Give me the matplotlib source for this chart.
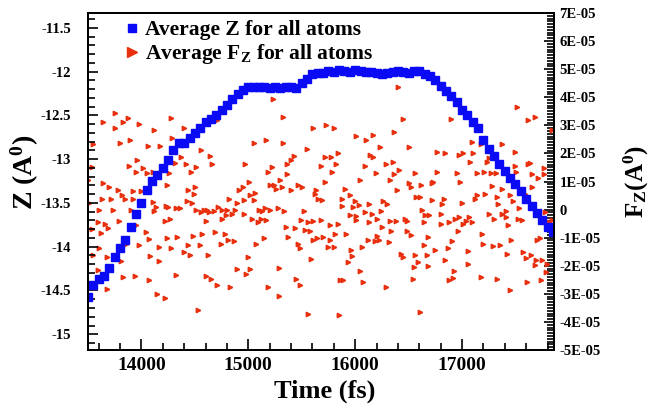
import matplotlib.pyplot as plt
from matplotlib.lines import Line2D
from matplotlib.ticker import MultipleLocator, FuncFormatter, FormatStrFormatter
import numpy as np

plt.rcParams["font.family"] = "Liberation Serif"
plt.rcParams["font.weight"] = "bold"
plt.rcParams["axes.labelweight"] = "bold"
plt.rcParams["mathtext.fontset"] = "custom"
plt.rcParams["mathtext.rm"] = "Liberation Serif:bold"
plt.rcParams["mathtext.it"] = "Liberation Serif:bold"
plt.rcParams["mathtext.bf"] = "Liberation Serif:bold"

# average Z of all atoms, sampled every 50 fs
time = np.arange(13500, 17851, 50)
z_avg = [
    -14.58, -14.44, -14.37, -14.34, -14.24, -14.12, -14.02, -13.92, -13.77, -13.63,
    -13.50, -13.35, -13.25, -13.18, -13.10, -13.01, -12.90, -12.82, -12.81, -12.76,
    -12.70, -12.64, -12.58, -12.54, -12.49, -12.44, -12.38, -12.31, -12.25, -12.21,
    -12.17, -12.17, -12.17, -12.18, -12.19, -12.18, -12.19, -12.18, -12.17, -12.19,
    -12.13, -12.08, -12.03, -12.01, -12.01, -11.99, -12.00, -11.98, -11.99, -12.00,
    -11.98, -11.99, -12.00, -12.00, -12.02, -12.03, -12.01, -12.00, -11.99, -12.00,
    -12.01, -11.99, -11.99, -12.03, -12.05, -12.10, -12.16, -12.22, -12.28, -12.35,
    -12.44, -12.49, -12.57, -12.64, -12.78, -12.88, -12.96, -13.05, -13.13, -13.21,
    -13.28, -13.36, -13.45, -13.54, -13.62, -13.70, -13.77, -13.83,
]

# average F_Z of all atoms (time in fs, value in units of 1e-5)
fz_time = [
    13755, 13637, 13871, 13830, 13980, 13755, 14120, 13550, 13802, 13896, 14058, 14173,
    13958, 13537, 13886, 14017, 13949, 14048, 14104, 14192, 13497, 13643, 13699, 13777,
    13917, 13995, 13818, 13631, 13715, 13849, 13917, 14104, 13512, 14136, 13599, 13737,
    13902, 14120, 13590, 13662, 13793, 13949, 13621, 13684, 13537, 14042, 13855, 14073,
    13606, 13980, 14161, 13674, 14079, 14161, 13808, 13715, 13593, 13830, 13939, 14067,
    13674, 14148, 13550,
    14279, 14397, 14709, 14288, 14559, 14640, 14372, 14310, 14413, 14515, 14466, 14662,
    14257, 14241, 14506, 14438, 14491, 14911, 14422, 14475, 14818, 14890, 14226, 14247,
    14319, 14360, 14515, 14559, 14584, 14609, 14631, 14678, 14715, 14755, 14802, 14874,
    14796, 14755, 14849, 14216, 14266, 14600, 14235, 14335, 14484, 14568, 14687, 14780,
    14808, 14865, 14740, 14279, 14438, 14547, 14403, 14453, 14625, 14896, 14319, 14600,
    14653, 14709, 14833, 14216, 14528,
    15230, 15323, 15601, 15049, 15164, 15323, 15548, 15429, 15401, 15361, 14971, 15682,
    15221, 15189, 15361, 15009, 15298, 15205, 15245, 15258, 15314, 15464, 15507, 15401,
    14949, 15065, 15018, 15632, 15626, 15651, 15694, 14956, 15049, 15102, 15127, 15152,
    15205, 15274, 15336, 15520, 14956, 15034, 15087, 15121, 15164, 15495, 15563, 15601,
    15679, 15351, 15439, 15532, 15579, 15376, 15697, 15610, 15641, 15143, 15074, 15461,
    15485, 14993, 15585, 15018, 14977, 15283, 15445, 15485, 15180, 15283, 15563,
    15731, 15800, 16012, 16105, 16168, 16361, 16230, 15840, 15722, 15778, 16143, 16168,
    15825, 16090, 16286, 16355, 15784, 16199, 16361, 16408, 15722, 16049, 16324, 16395,
    15903, 15950, 15881, 15996, 16261, 16302, 15881, 15981, 16037, 16130, 16090, 16158,
    16246, 15956, 16012, 16006, 16208, 16330, 16380, 15840, 15763, 16130, 16252, 16339,
    15815, 15918, 15763, 16121, 16183, 16205, 16224, 16314, 15747, 15800, 16065, 15959,
    15974, 15934, 16049, 15862, 15887, 16074, 16286, 15850,
    16445, 16897, 16501, 16763, 16844, 16968, 17012, 17106, 17090, 17078, 17137, 16563,
    16763, 16950, 16507, 16523, 16616, 16719, 16732, 16984, 16569, 16610, 16719, 16828,
    16813, 17000, 17121, 16626, 16654, 16694, 16803, 16470, 16485, 16641, 16803, 16881,
    16937, 16975, 17012, 17037, 17062, 17093, 16485, 16523, 16959, 16685, 16903, 16647,
    16750, 16866, 17053, 16429, 16445, 16563, 16672, 16591, 16548, 16685, 16844, 17053,
    16922, 16919, 16881, 16538, 16607, 16401,
    17518, 17620, 17680, 17845, 17175, 17371, 17496, 17253, 17237, 17617, 17636, 17493,
    17144, 17206, 17268, 17321, 17502, 17767, 17652, 17714, 17767, 17284, 17371, 17658,
    17144, 17215, 17331, 17449, 17589, 17340, 17480, 17533, 17409, 17377, 17253, 17299,
    17415, 17524, 17558, 17776, 17814, 17433, 17184, 17726, 17698, 17462, 17197, 17290,
    17356, 17424, 17574, 17648, 17596, 17689, 17751, 17683, 17798, 17789, 17175, 17331,
    17611, 17742, 17449, 17845,
]
fz_val = [
    3.43, 3.13, 3.27, 3.13, 3.04, 2.92, 2.83, 2.32, 2.36, 2.48, 2.26, 2.26,
    1.76, 1.53, 1.57, 1.47, 1.35, 1.31, 1.35, 1.43, 1.07, 0.95, 0.80, 0.71,
    0.66, 0.66, 0.51, 0.36, 0.39, 0.36, 0.39, 0.28, 0.24, 0.08, 0.00, -0.01,
    0.00, -0.06, -0.44, -0.51, -0.42, -0.56, -0.83, -0.65, -0.68, -0.80, -1.21, -1.03,
    -1.37, -1.27, -1.33, -1.69, -1.66, -1.84, -1.84, -2.08, -2.16, -2.41, -2.38, -2.52,
    -2.82, -3.00, -1.61,
    3.27, 2.92, 3.18, 2.56, 2.11, 1.91, 1.87, 1.67, 1.61, 1.51, 1.35, 1.61,
    1.29, 0.89, 0.81, 0.69, 0.54, 0.69, 0.30, 0.24, 0.39, 0.24, 0.12, 0.08,
    0.04, 0.04, -0.02, -0.09, -0.03, 0.00, -0.09, -0.06, 0.08, -0.02, 0.00, 0.00,
    -0.20, -0.32, -0.15, -0.42, -0.32, -0.42, -1.01, -0.97, -0.95, -0.87, -0.80, -0.87,
    -1.07, -1.11, -1.21, -1.37, -1.27, -1.27, -1.51, -1.63, -1.63, -2.12, -2.32, -2.38,
    -2.47, -2.70, -2.77, -3.13, -3.59,
    3.93, 3.31, 2.92, 2.36, 2.47, 2.36, 2.17, 1.91, 1.76, 1.64, 1.64, 1.55,
    1.51, 1.35, 1.25, 0.99, 1.05, 0.87, 0.89, 0.74, 0.80, 0.89, 0.80, 0.69,
    0.80, 0.60, 0.51, 0.71, 0.54, 0.39, 0.33, 0.33, 0.33, 0.00, -0.06, 0.04,
    -0.01, 0.04, -0.06, -0.06, -0.14, -0.32, -0.45, -0.32, -0.38, -0.36, -0.45, -0.42,
    -0.36, -0.62, -0.65, -0.71, -0.77, -0.97, -0.97, -1.07, -1.01, -1.01, -1.21, -1.21,
    -1.37, -1.68, -1.76, -2.12, -2.28, -2.08, -2.47, -2.68, -2.77, -3.09, -3.70,
    3.01, 2.92, 2.62, 2.47, 2.65, 2.77, 2.23, 2.02, 1.87, 1.87, 1.94, 1.87,
    1.61, 1.57, 1.61, 1.70, 1.35, 1.31, 1.25, 1.41, 0.99, 1.05, 1.05, 0.69,
    0.75, 0.51, 0.36, 0.30, 0.30, 0.20, 0.14, 0.10, 0.16, 0.20, -0.08, -0.14,
    -0.06, -0.20, -0.24, -0.38, -0.32, -0.42, -0.42, -0.50, -0.56, -0.45, -0.62, -0.77,
    -0.87, -0.86, -1.07, -1.07, -1.11, -0.95, -1.07, -1.17, -1.33, -1.33, -1.33, -1.43,
    -1.64, -1.87, -2.18, -2.52, -2.52, -2.58, -2.74, -3.75,
    3.21, 3.21, 2.23, 2.06, 2.00, 1.94, 2.00, 2.00, 2.42, 1.70, 2.86, 1.29,
    1.35, 1.29, 0.95, 0.81, 0.87, 0.93, 0.99, 0.99, 0.45, 0.44, 0.33, 0.39,
    0.20, 0.24, 0.39, -0.02, -0.20, -0.20, -0.15, -0.32, -0.42, -0.45, -0.51, -0.44,
    -0.32, -0.26, -0.50, -0.42, -0.26, -0.44, -0.77, -0.92, -0.77, -0.97, -1.11, -1.27,
    -1.43, -1.37, -1.46, -1.57, -1.69, -1.63, -1.63, -1.87, -2.05, -2.02, -1.81, -1.93,
    -2.18, -2.44, -2.52, -2.47, -3.65, 4.35,
    3.67, 3.18, 3.31, 2.83, 2.32, 2.32, 2.06, 1.85, 1.69, 1.61, 1.67, 1.57,
    1.31, 1.35, 1.29, 1.29, 1.35, 1.47, 1.25, 1.11, 1.25, 0.83, 0.74, 0.80,
    0.51, 0.56, 0.45, 0.51, 0.56, 0.20, 0.32, 0.04, -0.06, -0.15, -0.15, -0.32,
    -0.27, -0.32, -0.38, -0.08, -0.44, -0.56, -0.86, -1.01, -1.09, -1.07, -1.21, -1.31,
    -1.27, -1.57, -1.51, -1.63, -1.72, -1.78, -1.81, -1.99, -1.93, -2.22, -2.41, -2.47,
    -2.58, -2.52, -2.88, -0.36,
]

blue = "#0a0af5"
red = "#e8300e"

fig = plt.figure(figsize=(6.58, 4.13), dpi=100)
ax = fig.add_axes([0.1337, 0.1525, 0.7082, 0.816])
ax2 = ax.twinx()
ax.set_zorder(ax2.get_zorder() + 1)
ax.patch.set_visible(False)

ax2.plot(fz_time, np.array(fz_val) * 1e-5, ls="none", marker=">", ms=3.2,
         color=red, mec=red)
ax.plot(time, z_avg, ls="none", marker="s", ms=5.6, color=blue, mec=blue)

ax.set_xlim(13500, 17860)
ax.set_ylim(-15.18, -11.33)
ax2.set_ylim(-5e-5, 7e-5)

ax.xaxis.set_major_locator(MultipleLocator(1000))
ax.xaxis.set_minor_locator(MultipleLocator(200))
ax.yaxis.set_major_locator(MultipleLocator(0.5))
ax.yaxis.set_minor_locator(MultipleLocator(0.1))
ax.yaxis.set_major_formatter(FormatStrFormatter("%g"))
ax2.yaxis.set_major_locator(MultipleLocator(1e-5))
ax2.yaxis.set_minor_locator(MultipleLocator(1e-6))
ax2.yaxis.set_major_formatter(
    FuncFormatter(lambda v, pos: "0" if abs(v) < 1e-9 else f"{v:.0E}"))

ax.tick_params(which="both", direction="in", top=False, right=False, width=1.2)
ax.tick_params(axis="y", which="major", length=7, pad=12, labelsize=10.5)
ax.tick_params(axis="y", which="minor", length=5)
ax.tick_params(axis="x", which="major", length=8, pad=5, labelsize=14)
ax.tick_params(axis="x", which="minor", length=5)
ax2.tick_params(which="both", direction="in", width=1.2)
ax2.tick_params(which="major", length=7, pad=4, labelsize=10.5)
ax2.tick_params(which="minor", length=5)
for a in (ax, ax2):
    for s in a.spines.values():
        s.set_linewidth(1.4)

fig.canvas.draw()
for lab in ax.get_xticklabels() + ax.get_yticklabels() + ax2.get_yticklabels():
    lab.set_fontweight("bold")

ax.set_xlabel("Time (fs)", fontsize=19, fontweight="bold")
ax.xaxis.set_label_coords(0.507, -0.088)
ax.set_ylabel(r"Z (A$^{0}$)", fontsize=20, fontweight="bold")
ax.yaxis.set_label_coords(-0.10, 0.528)
ax2.set_ylabel(r"F$_{\mathrm{Z}}$(A$^{0}$)", fontsize=18, fontweight="bold")
ax2.yaxis.set_label_coords(1.146, 0.50)

handles = [
    Line2D([], [], ls="none", marker="s", ms=6, color=blue, mec=blue),
    Line2D([], [], ls="none", marker=">", ms=7, color=red, mec=red),
]
labels = ["Average Z for all atoms", r"Average F$_{\mathrm{Z}}$ for all atoms"]
ax.legend(handles, labels, loc="upper left", bbox_to_anchor=(0.187, 0.951),
          bbox_transform=fig.transFigure, frameon=False, fontsize=15.5,
          borderpad=0, borderaxespad=0, handlelength=0.8, handletextpad=0.2,
          labelspacing=0.1)

fig.savefig("out.png", dpi=100)
